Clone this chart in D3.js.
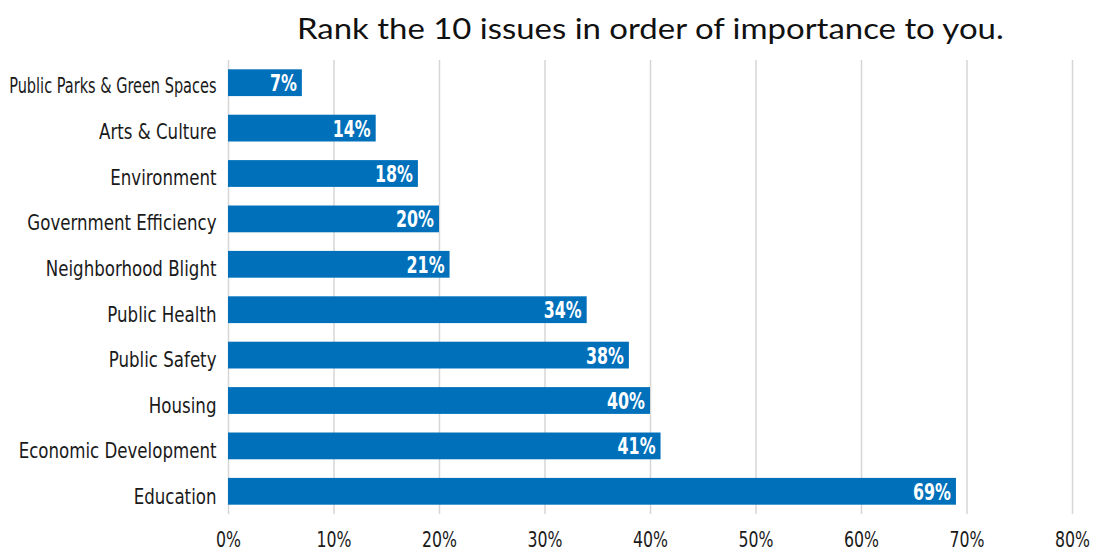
<!DOCTYPE html>
<html>
<head>
<meta charset="utf-8">
<script src="https://cdn.jsdelivr.net/npm/d3@7"></script>
<style>
  html, body { margin: 0; padding: 0; background: #ffffff; }
  svg { display: block; }
</style>
</head>
<body>
<svg id="chart" width="1103" height="552"></svg>
<script>
// Survey results: share of respondents ranking each issue
const titleText = "Rank the 10 issues in order of importance to you.";
const categories = [
  "Public Parks & Green Spaces",
  "Arts & Culture",
  "Environment",
  "Government Efficiency",
  "Neighborhood Blight",
  "Public Health",
  "Public Safety",
  "Housing",
  "Economic Development",
  "Education"
];
const values = [7, 14, 18, 20, 21, 34, 38, 40, 41, 69];
const tickValues = [0, 10, 20, 30, 40, 50, 60, 70, 80];

const svg = d3.select("#chart");
const barColor = "#0070bb";
const gridColor = "#d6d6d6";
const inkColor = "#1a1a1a";
const narrowFont = "'Liberation Sans Narrow', 'DejaVu Sans Condensed', 'Liberation Sans', sans-serif";

const x = d3.scaleLinear().domain([0, 80]).range([228, 1072]);
const y = d3.scaleBand().domain(categories).range([60, 514])
  .paddingInner(0.41).paddingOuter(0.205);

// Category label baselines run on their own slightly wider spacing
const yLabel = d3.scalePoint().domain(categories).range([93.5, 504]);

// Horizontal compression helper: squeeze a text element around its anchor
function squeezeTo(sel, kFn) {
  sel.each(function (d, i) {
    const t = d3.select(this);
    const k = typeof kFn === "function" ? kFn.call(this, d, i) : kFn;
    const tx = +t.attr("x") || 0;
    t.attr("transform", `translate(${tx * (1 - k)},0) scale(${k},1)`);
  });
}
function measure(text, font, size, weight) {
  const t = svg.append("text")
    .attr("font-family", font).attr("font-size", size)
    .attr("font-weight", weight || "normal").text(text);
  const w = t.node().getComputedTextLength();
  t.remove();
  return w;
}

// Gridlines + bottom axis
const axis = d3.axisBottom(x)
  .tickValues(tickValues)
  .tickFormat(d => d + "%")
  .tickSize(-(y.range()[1] - y.range()[0]))
  .tickPadding(14);

const gAxis = svg.append("g")
  .attr("transform", `translate(0,${y.range()[1]})`)
  .call(axis);
gAxis.select(".domain").remove();
gAxis.selectAll(".tick line")
  .attr("stroke", gridColor)
  .attr("stroke-width", 1.5);
const kTick = 35 / measure("10%", narrowFont, 22);
gAxis.selectAll(".tick text")
  .attr("font-family", narrowFont)
  .attr("font-size", 22)
  .attr("fill", inkColor)
  .attr("y", 0)
  .attr("dy", 0)
  .attr("transform", `translate(0,32.5) scale(${kTick},1)`);

// Bars
svg.append("g").selectAll("rect")
  .data(values)
  .join("rect")
  .attr("x", x(0))
  .attr("y", (d, i) => y(categories[i]))
  .attr("width", d => x(d) - x(0))
  .attr("height", y.bandwidth())
  .attr("fill", barColor);

// Value labels inside the bar ends
const kVal = 38 / measure("14%", narrowFont, 23, "bold");
svg.append("g").selectAll("text")
  .data(values)
  .join("text")
  .attr("x", d => x(d) - 5)
  .attr("y", (d, i) => y(categories[i]) + y.bandwidth() / 2 + 8.5)
  .attr("text-anchor", "end")
  .attr("font-family", narrowFont)
  .attr("font-size", 23)
  .attr("font-weight", "bold")
  .attr("fill", "#ffffff")
  .text(d => d + "%")
  .call(squeezeTo, kVal);

// Category labels: common compression, tightened further if a label
// would run past the left margin
const labelRight = 216.5;
const labelRoom = labelRight - 9;
const kCat = 198 / measure("Economic Development", narrowFont, 22);
svg.append("g").selectAll("text")
  .data(categories)
  .join("text")
  .attr("x", labelRight)
  .attr("y", d => yLabel(d))
  .attr("text-anchor", "end")
  .attr("font-family", narrowFont)
  .attr("font-size", 22)
  .attr("fill", inkColor)
  .text(d => d)
  .call(squeezeTo, function () {
    const w = this.getComputedTextLength();
    return Math.min(kCat, labelRoom / w);
  });

// Title
const titleFont = "Lato, 'Noto Sans', sans-serif";
const kTitle = 707 / measure(titleText, titleFont, 29);
svg.append("text")
  .attr("x", 297)
  .attr("y", 39.5)
  .attr("font-family", titleFont)
  .attr("font-size", 29)
  .attr("fill", "#111111")
  .text(titleText)
  .call(squeezeTo, kTitle);
</script>
</body>
</html>
